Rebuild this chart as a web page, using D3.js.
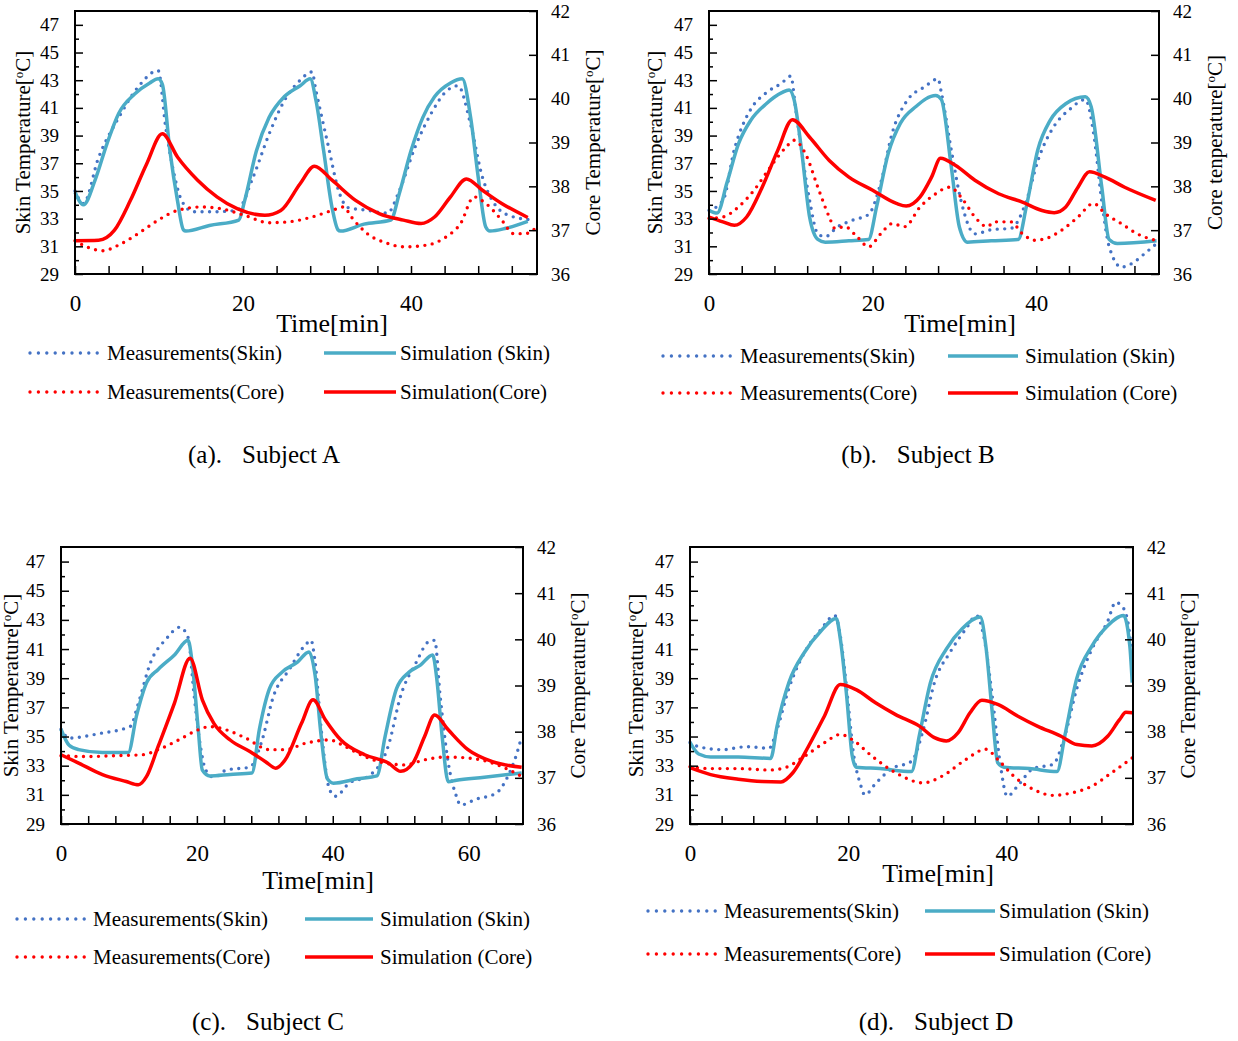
<!DOCTYPE html>
<html>
<head>
<meta charset="utf-8">
<script src="https://cdn.jsdelivr.net/npm/d3@7"></script>
<style>
  body { margin: 0; background: #fff; }
  svg { display: block; font-family: "Liberation Serif", "Times New Roman", serif; }
</style>
</head>
<body>
<script>
// ---- data: [time (min), temperature (°C)] ----
const skinTicks = [29, 31, 33, 35, 37, 39, 41, 43, 45, 47]
const coreTicks = [36, 37, 38, 39, 40, 41, 42]

const measSkinA = [[0,35],[1,34.1],[2.8,37.4],[5.2,40.3],[7.5,42.5],[9.9,43.7],[10.8,39.6],[11.8,36.2],[12.7,34.3],[14.1,33.5],[16.5,33.5],[19.3,33.6],[21.2,36],[23.1,39.1],[24.9,41.5],[26.8,43],[28.2,43.6],[28.7,42.2],[30.1,38.4],[31.5,34.8],[32.5,33.8],[34.8,33.6],[37.2,33.4],[38.6,35],[40.5,38.2],[42.4,40.6],[44.2,42.2],[45.6,42.6],[47.1,39.8],[48.5,36],[49.9,34.1],[51.8,33.2],[54.6,32.9]]
const simSkinA = [[0,34.9],[1,34.0],[2.4,35.8],[3.8,38.4],[5.2,40.6],[7.1,42.0],[8.9,42.8],[9.9,43.1],[10.4,42.7],[11.3,37.9],[12.2,34.3],[12.9,32.2],[13.2,32.1],[16,32.5],[19.5,32.9],[20.2,34.3],[21.6,37.9],[23.1,40.3],[24.9,41.8],[26.8,42.6],[28,43.1],[28.7,41.5],[29.6,37.9],[30.6,33.8],[31.3,32.2],[31.6,32.1],[34.4,32.6],[37.6,32.9],[38.6,34.8],[40,37.9],[41.4,40.3],[42.8,41.8],[44.7,42.8],[46.1,43.1],[47.1,40.3],[48,36],[48.9,32.4],[49.4,32.1],[51.3,32.3],[53.9,32.8]]
const measCoreA = [[0,36.76],[1.4,36.62],[3.3,36.53],[5.2,36.66],[7.5,36.92],[9.9,37.23],[12.2,37.45],[15.1,37.53],[17.4,37.49],[20.2,37.34],[23.1,37.17],[25.4,37.19],[28.2,37.3],[30.6,37.45],[32,37.53],[32.9,37.3],[34.8,36.92],[37.2,36.7],[39.1,36.62],[41.9,36.66],[44.2,36.85],[45.9,37.15],[47.5,37.76],[48.9,37.61],[50.8,37.23],[52.2,36.92],[53.6,36.92],[54.8,37.04]]
const simCoreA = [[0,36.76],[2.8,36.77],[4.7,37.0],[6.6,37.68],[8.5,38.5],[10.4,39.2],[12.2,38.67],[14.6,38.14],[16.9,37.76],[19.3,37.49],[22.6,37.34],[24.5,37.45],[26.8,38.06],[28.5,38.46],[30.6,38.14],[33.4,37.68],[36.2,37.38],[39.1,37.23],[41.2,37.15],[42.8,37.3],[44.7,37.76],[46.6,38.17],[48.5,37.91],[50.8,37.61],[53.9,37.29]]

const measSkinB = [[0,33.6],[1.7,34.3],[3.1,38],[5.1,40.9],[7,42.1],[8.9,42.8],[10,43.3],[10.6,40.9],[11.3,38],[12.3,34.3],[13.3,31.9],[14.2,31.7],[15.7,32.4],[17.6,32.9],[19.5,33.3],[21,35.6],[22.4,39.2],[24.3,41.6],[26.3,42.5],[28,43.1],[28.4,42.1],[29.6,38],[30.8,34.3],[32.5,31.9],[34.5,32.2],[36.9,32.3],[38.8,34.3],[40.2,37.2],[42.2,39.7],[44.1,40.9],[46,41.6],[47,39.2],[48,34.3],[48.9,31],[50.4,29.5],[51.8,29.8],[53.3,30.5],[54.7,31.2]]
const simSkinB = [[0,33.6],[1,33.4],[2.2,35.6],[3.6,38.4],[5.1,40.1],[7,41.3],[8.9,42.1],[9.8,42.3],[10.4,41.6],[11.3,38],[12.3,33.1],[13.3,31.5],[14.2,31.3],[17.1,31.4],[19.5,31.5],[20.5,33.9],[21.9,37.7],[23.4,39.9],[25.3,41.1],[27.7,41.9],[28.4,41.6],[29.6,36.8],[30.6,32.4],[31.6,31.3],[34.5,31.4],[37.8,31.5],[38.8,33.9],[40.2,38],[41.7,40.1],[43.6,41.3],[46,41.8],[46.7,41.1],[48,35.3],[48.9,31.5],[49.9,31.2],[54.7,31.4]]
const measCoreB = [[0,37.27],[1.7,37.3],[3.6,37.53],[5.5,37.91],[7.5,38.44],[9.4,38.89],[10.4,39.05],[11.8,38.74],[13.3,37.98],[14.7,37.3],[15.4,37.04],[16.6,37.08],[18.1,36.85],[19.5,36.62],[21,36.92],[22.4,37.15],[23.9,37.08],[25.8,37.53],[27.7,37.83],[29.4,37.98],[31.1,37.68],[32.5,37.3],[34,37.08],[34.9,37.19],[36.9,37.19],[38.3,36.92],[39.8,36.77],[41.2,36.81],[43.1,37],[45.1,37.3],[47,37.61],[48.4,37.38],[50.4,37.15],[52.3,36.92],[54.5,36.77]]
const simCoreB = [[0,37.3],[1.7,37.19],[3.1,37.11],[4.6,37.3],[6.5,37.98],[8.4,38.82],[10.2,39.52],[12.3,39.12],[14.7,38.59],[17.1,38.21],[20,37.91],[22.9,37.61],[24.1,37.55],[25.8,37.76],[27.2,38.21],[28.3,38.64],[30.1,38.48],[32.5,38.14],[35.4,37.83],[38.3,37.64],[40.7,37.45],[42.2,37.4],[43.6,37.53],[45.1,37.98],[46.5,38.33],[48.4,38.21],[50.8,37.98],[54.6,37.68]]

const measSkinC = [[0,35.5],[1.2,34.9],[5.6,35.2],[10.2,35.7],[11.4,37.3],[13.2,40.1],[15.5,41.7],[17.5,42.5],[18.7,41.8],[19.6,37.8],[20.5,34.4],[21.3,32.7],[22.5,32.2],[24.3,32.7],[27.8,32.9],[29.5,34.6],[31.3,37.8],[33.6,39.6],[36,41.3],[36.8,41.6],[37.4,40.1],[38.3,35.5],[39.5,31.4],[40.4,30.9],[42.4,31.8],[45.3,32.3],[48.2,34.4],[50,37.8],[52.3,40.1],[54.1,41.5],[55,41.6],[55.8,37.8],[57,33.2],[58.2,30.9],[58.8,30.3],[61.1,30.7],[64,31.1],[65.8,32.3],[67,33.7],[67.8,35]]
const simSkinC = [[0,35.5],[1.2,34.4],[2.6,34.1],[6.1,33.9],[9.9,33.9],[11.1,36.4],[12.6,38.7],[14.3,39.6],[16.7,40.6],[18.7,41.6],[19.3,40.1],[20.2,35.5],[20.8,32.7],[21.9,32.3],[24.9,32.4],[28.1,32.5],[29.2,35.5],[30.7,38.3],[32.5,39.4],[34.8,40.1],[36.5,40.8],[37.4,39.2],[38.3,35],[39.2,32.1],[40.1,31.8],[43.6,32.1],[46.5,32.3],[47.7,35],[49.4,38.3],[51.2,39.4],[52.9,39.9],[54.7,40.6],[55.3,39],[56.1,35],[57,31.9],[58.2,32],[62.3,32.2],[67.8,32.5]]
const measCoreC = [[0,37.48],[3.8,37.46],[7.9,37.48],[12,37.5],[14.3,37.61],[17.3,37.82],[20.2,38.04],[21.9,38.11],[24.3,38.04],[27.2,37.86],[30.7,37.61],[33,37.61],[36,37.75],[39.5,37.82],[41.8,37.68],[44.7,37.46],[47.7,37.32],[50.6,37.28],[53.5,37.39],[56.4,37.45],[59.9,37.43],[63.5,37.32],[66.4,37.14],[67.8,37.03]]
const simCoreC = [[0,37.5],[2.6,37.32],[6.1,37.07],[9.6,36.92],[11.4,36.85],[12.6,37.03],[14.3,37.68],[16.7,38.62],[19,39.59],[20.8,38.69],[22.5,38.18],[24.9,37.82],[27.8,37.57],[30.1,37.35],[31.6,37.21],[33,37.39],[35.4,38.18],[37.1,38.69],[38.9,38.26],[41.2,37.82],[44.7,37.5],[48.2,37.32],[50,37.14],[51.8,37.32],[53.5,37.89],[55,38.36],[57,38.04],[59.9,37.61],[63.5,37.35],[67.8,37.23]]

const measSkinD = [[0,34.6],[1.1,34.3],[4.1,34.1],[7.1,34.3],[10,34.2],[11,35.5],[12.5,38.3],[14.5,40.8],[16.5,42.3],[18.3,43.3],[19,41.9],[19.8,38.3],[20.7,33.7],[21.5,31.8],[22.1,31],[23.5,31.8],[25.5,32.8],[28,33.3],[29.5,35.5],[30.9,38.7],[32.9,40.8],[34.9,42.4],[36.2,43.3],[37.2,41.7],[38.2,37.8],[39.2,33.2],[40.1,30.9],[41.4,31.6],[43.4,32.8],[45.9,33.1],[47.4,35.1],[48.9,38.3],[50.8,41],[52.8,42.9],[53.8,44.2],[54.8,43.8],[55.6,41.9],[55.9,39.2]]
const simSkinD = [[0,34.6],[1.1,33.8],[2.6,33.6],[6.1,33.6],[10.2,33.5],[11,35.7],[12.5,38.7],[14.5,40.8],[16.5,42.2],[18.5,43.1],[19,41.7],[19.8,37.8],[20.5,33.7],[21,32.9],[24,32.8],[28,32.6],[29,35.1],[30.4,38.7],[32.4,41],[34.4,42.4],[36.7,43.2],[37.4,41.2],[38.2,36.7],[38.9,33.2],[39.7,32.9],[42.9,32.8],[46.4,32.6],[47.4,35.1],[48.9,39],[50.8,41.2],[52.8,42.6],[54.8,43.3],[55.6,41.2],[55.9,38.7]]
const measCoreD = [[0,37.24],[2.6,37.2],[6.1,37.2],[10,37.17],[12,37.22],[14.5,37.47],[17,37.76],[19,37.94],[20.5,37.83],[23,37.47],[26,37.11],[29.5,36.89],[31.9,37.04],[34.9,37.4],[37.4,37.62],[38.9,37.4],[40.9,37.04],[43.4,36.75],[45.9,36.62],[48.4,36.68],[50.8,36.82],[53.3,37.11],[55.9,37.43]]
const simCoreD = [[0,37.22],[2.6,37.07],[6.1,36.97],[9.1,36.92],[11.5,36.91],[13,37.11],[15,37.69],[17,38.34],[19,39.02],[21,38.91],[23.5,38.62],[26,38.37],[29,38.12],[30.9,37.87],[32.4,37.8],[33.9,37.98],[35.4,38.41],[36.9,38.68],[38.9,38.59],[41.4,38.34],[43.9,38.12],[46.9,37.9],[48.9,37.72],[50.8,37.69],[52.8,37.9],[54.3,38.26],[55.1,38.42],[55.9,38.41]]

// ---- layout of the four panels ----
const panels = [
  { tag: '(a).', subject: 'Subject A', box: [75, 11, 537, 274], tmax: 55, xLabels: [0, 20, 40],
    coreTitle: 'Core Temperature', simCoreText: 'Simulation(Core)',
    data: [measSkinA, simSkinA, measCoreA, simCoreA],
    leftTitleX: 23, rightTitleX: 593, timeX: 332, timeY: 332, capX: 264, capY: 463,
    leg: { y1: 353, y2: 392, a0: 30, a1: 98, t1: 107, b0: 324, b1: 396, t2: 400 } },
  { tag: '(b).', subject: 'Subject B', box: [709, 11, 1159, 274], tmax: 55, xLabels: [0, 20, 40],
    coreTitle: 'Core tenperature', simCoreText: 'Simulation (Core)',
    data: [measSkinB, simSkinB, measCoreB, simCoreB],
    leftTitleX: 655, rightTitleX: 1215, timeX: 960, timeY: 332, capX: 918, capY: 463,
    leg: { y1: 356, y2: 393, a0: 663, a1: 733, t1: 740, b0: 948, b1: 1018, t2: 1025 } },
  { tag: '(c).', subject: 'Subject C', box: [61, 547, 523, 824], tmax: 68, xLabels: [0, 20, 40, 60],
    coreTitle: 'Core Temperature', simCoreText: 'Simulation (Core)',
    data: [measSkinC, simSkinC, measCoreC, simCoreC],
    leftTitleX: 11, rightTitleX: 578, timeX: 318, timeY: 889, capX: 268, capY: 1030,
    leg: { y1: 919, y2: 957, a0: 17, a1: 85, t1: 93, b0: 305, b1: 373, t2: 380 } },
  { tag: '(d).', subject: 'Subject D', box: [690, 547, 1133, 824], tmax: 56, xLabels: [0, 20, 40],
    coreTitle: 'Core Temperature', simCoreText: 'Simulation (Core)',
    data: [measSkinD, simSkinD, measCoreD, simCoreD],
    leftTitleX: 636, rightTitleX: 1188, timeX: 938, timeY: 882, capX: 936, capY: 1030,
    leg: { y1: 911, y2: 954, a0: 648, a1: 716, t1: 724, b0: 925, b1: 995, t2: 999 } }
]

const blue = '#4472c4', teal = '#4bacc6', red = '#ff0000'
const styles = [
  { color: blue, dotted: true }, { color: teal, dotted: false },
  { color: red, dotted: true }, { color: red, dotted: false }
]
const legendNames = ['Measurements(Skin)', 'Simulation (Skin)', 'Measurements(Core)']
const serif = '"Liberation Serif", "Times New Roman", serif'

const svg = d3.select('body').append('svg').attr('width', 1238).attr('height', 1041)

function degTitle(g, text) {
  g.append('tspan').text(text + '[')
  g.append('tspan').text('o').attr('font-size', '0.62em').attr('dy', '-0.55em')
  g.append('tspan').text('C]').attr('dy', '0.34em')
}

function styleLine(sel, s, gap) {
  sel.attr('fill', 'none').attr('stroke', s.color)
  if (s.dotted) sel.attr('stroke-width', 3.4).attr('stroke-linecap', 'round').attr('stroke-dasharray', `0 ${gap}`)
  else sel.attr('stroke-width', 3.5).attr('stroke-linejoin', 'round')
}

panels.forEach(p => {
  const [x0, y0, x1, y1] = p.box
  const x = d3.scaleLinear().domain([0, p.tmax]).range([x0, x1])
  const ySkin = d3.scaleLinear().domain([29, 48]).range([y1, y0])
  const yCore = d3.scaleLinear().domain([36, 42]).range([y1, y0])
  const g = svg.append('g')

  // series
  const lines = [ySkin, ySkin, yCore, yCore].map(ys =>
    d3.line().x(d => x(d[0])).y(d => ys(d[1])).curve(d3.curveMonotoneX))
  p.data.forEach((d, i) => {
    g.append('path').attr('d', lines[i](d)).call(styleLine, styles[i], 7.5)
  })

  // frame
  g.append('rect').attr('x', x0).attr('y', y0).attr('width', x1 - x0).attr('height', y1 - y0)
    .attr('fill', 'none').attr('stroke', '#000').attr('stroke-width', 2)

  // axes
  const axStyle = a => {
    a.attr('font-family', serif)
    a.select('.domain').remove()
    a.selectAll('line').attr('stroke', '#000').attr('stroke-width', 1.5)
    a.selectAll('text').attr('fill', '#000')
  }
  g.append('g').attr('transform', `translate(${x0},0)`)
    .call(d3.axisLeft(ySkin).tickValues(skinTicks).tickSize(-8).tickPadding(16))
    .call(axStyle).selectAll('text').attr('font-size', 19)
  g.append('g').attr('transform', `translate(${x0},0)`)
    .call(d3.axisLeft(ySkin).tickValues(d3.range(30, 48, 2)).tickSize(-4).tickFormat(''))
    .call(axStyle)
  g.append('g').attr('transform', `translate(${x1},0)`)
    .call(d3.axisRight(yCore).tickValues(coreTicks).tickSize(-8).tickPadding(14).tickFormat(d3.format('d')))
    .call(axStyle).selectAll('text').attr('font-size', 19)
  g.append('g').attr('transform', `translate(0,${y1})`)
    .call(d3.axisBottom(x).tickValues(d3.range(0, p.tmax, 4)).tickSize(-8).tickFormat(''))
    .call(axStyle)
  g.append('g').attr('transform', `translate(0,${y1})`)
    .call(d3.axisBottom(x).tickValues(p.xLabels).tickSize(0).tickPadding(21))
    .call(axStyle).selectAll('text').attr('font-size', 23)

  // axis titles
  const midY = (y0 + y1) / 2
  const lt = g.append('text').attr('font-size', 21).attr('text-anchor', 'middle')
    .attr('transform', `translate(${p.leftTitleX},${midY}) rotate(-90)`).attr('dy', '0.35em')
  degTitle(lt, 'Skin Temperature')
  const rt = g.append('text').attr('font-size', 21).attr('text-anchor', 'middle')
    .attr('transform', `translate(${p.rightTitleX},${midY}) rotate(-90)`).attr('dy', '0.35em')
  degTitle(rt, p.coreTitle)
  g.append('text').attr('x', p.timeX).attr('y', p.timeY).attr('text-anchor', 'middle')
    .attr('font-size', 26).text('Time[min]')

  // legend
  const L = p.leg
  const legendRows = [
    [L.y1, L.a0, L.a1, L.t1, 0], [L.y1, L.b0, L.b1, L.t2, 1],
    [L.y2, L.a0, L.a1, L.t1, 2], [L.y2, L.b0, L.b1, L.t2, 3]
  ]
  legendRows.forEach(([ly, lx0, lx1, tx, i]) => {
    g.append('line').attr('x1', lx0).attr('x2', lx1).attr('y1', ly).attr('y2', ly)
      .call(styleLine, styles[i], 8.4)
    g.append('text').attr('x', tx).attr('y', ly).attr('dy', '0.35em').attr('font-size', 21)
      .text(i === 3 ? p.simCoreText : legendNames[i])
  })

  // caption
  const cap = g.append('text').attr('x', p.capX).attr('y', p.capY).attr('text-anchor', 'middle')
    .attr('font-size', 25)
  cap.append('tspan').text(p.tag)
  cap.append('tspan').attr('dx', 20).text(p.subject)
})
</script>
</body>
</html>
